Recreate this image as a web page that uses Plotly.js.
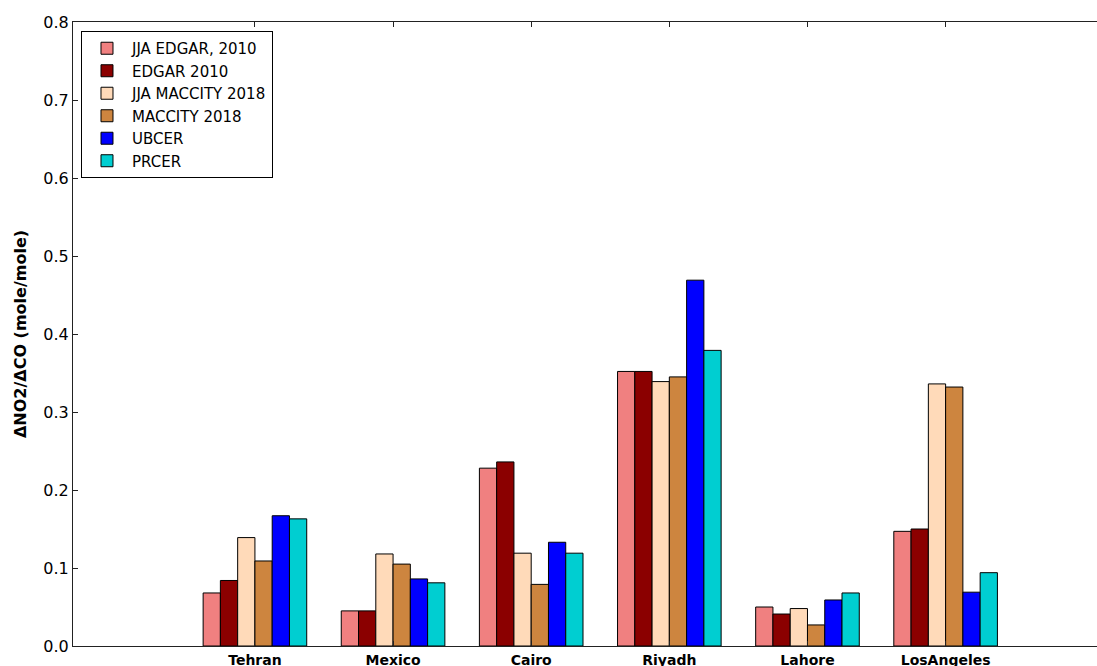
<!DOCTYPE html>
<html>
<head>
<meta charset="utf-8">
<script src="https://cdn.plot.ly/plotly-3.0.1.min.js"></script>
<style>
html,body{margin:0;padding:0;overflow:hidden;background:#fff;width:1097px;height:666px;}
#chart{width:1120px;height:680px;}
</style>
</head>
<body>
<div id="chart"></div>
<script>
const cities = ["Tehran", "Mexico", "Cairo", "Riyadh", "Lahore", "LosAngeles"];
const seriesNames = ["JJA EDGAR, 2010", "EDGAR 2010", "JJA MACCITY 2018", "MACCITY 2018", "UBCER", "PRCER"];
const jjaEdgar2010   = [0.068, 0.045, 0.228, 0.352, 0.050, 0.147];
const edgar2010      = [0.084, 0.045, 0.236, 0.352, 0.041, 0.150];
const jjaMaccity2018 = [0.139, 0.118, 0.119, 0.339, 0.048, 0.336];
const maccity2018    = [0.109, 0.105, 0.079, 0.345, 0.027, 0.332];
const ubcer          = [0.167, 0.086, 0.133, 0.469, 0.059, 0.069];
const prcer          = [0.163, 0.081, 0.119, 0.379, 0.068, 0.094];
const yTicks = [0.0, 0.1, 0.2, 0.3, 0.4, 0.5, 0.6, 0.7, 0.8];

const seriesValues = [jjaEdgar2010, edgar2010, jjaMaccity2018, maccity2018, ubcer, prcer];
const colors = ["#F08080", "#8B0000", "#FFDAB9", "#CD853F", "#0000FF", "#00CED1"];
const xIdx = cities.map((c, i) => i);

const traces = seriesValues.map((vals, k) => ({
  type: "bar",
  name: seriesNames[k],
  legendgroup: "g" + k,
  x: xIdx,
  y: vals,
  marker: {color: colors[k], line: {color: "#000", width: 1}},
  hoverinfo: "skip"
}));

const layout = {
  width: 1120,
  height: 680,
  margin: {l: 73, r: 10, t: 22, b: 34},
  paper_bgcolor: "#fff",
  plot_bgcolor: "#fff",
  barmode: "group",
  bargap: 0.25,
  bargroupgap: 0,
  font: {family: "DejaVu Sans", color: "#000"},
  showlegend: true,
  legend: {
    x: 0.0077, y: 0.9856, xanchor: "left", yanchor: "top",
    bgcolor: "#fff", bordercolor: "#000", borderwidth: 1,
    font: {family: "DejaVu Sans", size: 15, color: "#000"},
    itemwidth: 40,
    tracegroupgap: 0
  },
  xaxis: {
    type: "linear",
    range: [-1.317, 6.19],
    tickmode: "array",
    tickvals: xIdx,
    ticktext: cities.map(c => "<b>" + c + "</b>"),
    tickfont: {family: "DejaVu Sans", size: 14, color: "#000"},
    ticks: "inside",
    ticklen: 5,
    tickcolor: "#222",
    ticklabelstandoff: 1,
    showline: true,
    linecolor: "#222",
    linewidth: 1,
    mirror: "ticks",
    showgrid: false,
    zeroline: false,
    fixedrange: true
  },
  yaxis: {
    range: [0, 0.8],
    tickmode: "array",
    tickvals: yTicks,
    ticktext: yTicks.map(v => v.toFixed(1)),
    tickfont: {family: "DejaVu Sans", size: 16, color: "#000"},
    ticks: "inside",
    ticklen: 5,
    tickcolor: "#222",
    showline: true,
    linecolor: "#222",
    linewidth: 1,
    mirror: "ticks",
    showgrid: false,
    zeroline: false,
    title: {text: "<b>ΔNO2/ΔCO (mole/mole)</b>", font: {family: "DejaVu Sans", size: 16, color: "#000"}, standoff: 12},
    fixedrange: true
  }
};

Plotly.newPlot("chart", traces, layout, {displayModeBar: false, staticPlot: true});
</script>
</body>
</html>
